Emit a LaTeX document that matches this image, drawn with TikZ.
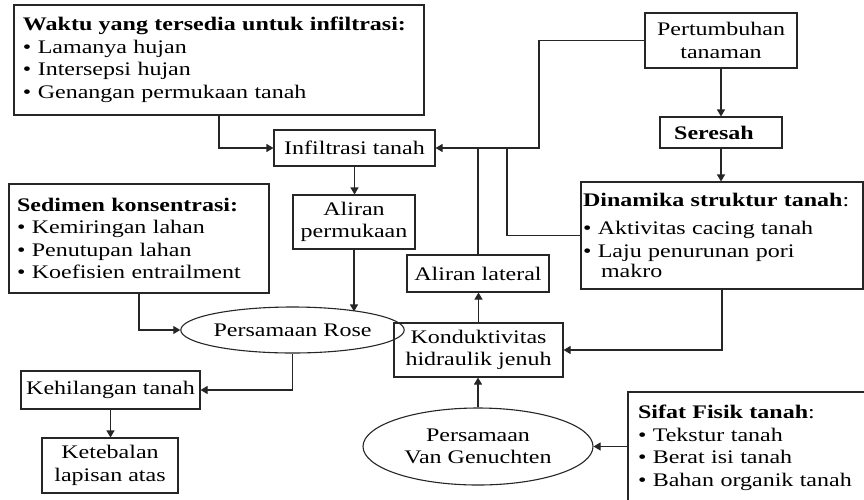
\documentclass[tikz,border=0pt]{standalone}
\usepackage{fontspec}
\setmainfont{Liberation Serif}[FakeStretch=1.25]
\usetikzlibrary{arrows.meta,shapes.geometric}
\newcommand{\bl}{\textbullet\ }
\tikzset{
  txt/.style={font=\fontsize{19.2}{22.5}\selectfont},
  box/.style={txt, draw=black!85, line width=1.1pt, rectangle, inner sep=0pt, align=center},
  lbox/.style={box, align=left},
  ell/.style={txt, draw=black!85, line width=1.1pt, ellipse, inner sep=0pt, align=center},
  conn/.style={line width=1.1pt, draw=black!85},
  arr/.style={conn, -{Triangle[length=7pt,width=8pt]}},
}
\begin{document}
\begin{tikzpicture}[x=1pt,y=-1pt]
\fill[white] (0,0) rectangle (864,499);
\useasboundingbox (0,0) rectangle (864,499);

\node[lbox, minimum width=410pt, minimum height=110pt, text width=392pt] (waktu) at (219,60)
  {\textbf{Waktu yang tersedia untuk infiltrasi:}\\ \bl Lamanya hujan\\ \bl Intersepsi hujan\\ \bl Genangan permukaan tanah};
\node[box, minimum width=161pt, minimum height=36pt] (infil) at (354.5,148) {Infiltrasi tanah};
\node[box, minimum width=152pt, minimum height=55pt] (pert) at (721,40.5) {Pertumbuhan\\tanaman};
\node[box, minimum width=122pt, minimum height=31pt] (seresah) at (721,132.5) {\hbox{\textbf{Seresah}\kern14pt}};
\node[lbox, minimum width=282pt, minimum height=107pt, text width=278pt] (dinam) at (722,235.5)
  {\textbf{Dinamika struktur tanah}:\\[6pt] \bl Aktivitas cacing tanah\\ \bl Laju penurunan pori\\[-2pt] \phantom{\bl}\,makro};
\node[lbox, minimum width=260pt, minimum height=109pt, text width=244pt] (sedimen) at (139,238.5)
  {\textbf{Sedimen konsentrasi:}\\ \bl Kemiringan lahan\\ \bl Penutupan lahan\\ \bl Koefisien entrailment};
\node[box, minimum width=122pt, minimum height=54pt] (alirp) at (354,222) {Aliran\\permukaan};
\node[box, minimum width=142pt, minimum height=37pt] (allat) at (478,273.5) {Aliran lateral};
\node[ell, minimum width=175pt, minimum height=46pt] (rose) at (292.5,330) {Persamaan Rose};
\node[box, minimum width=169pt, minimum height=54pt] (konduk) at (478.5,350) {Konduktivitas\\hidraulik jenuh};
\node[box, minimum width=179pt, minimum height=38pt] (kehil) at (110.5,390) {Kehilangan tanah};
\node[box, minimum width=136pt, minimum height=55pt] (keteb) at (110,465.5) {Ketebalan\\lapisan atas};
\node[ell, minimum width=230pt, minimum height=77pt] (vangen) at (478,446.5) {Persamaan\\Van Genuchten};
\node[lbox, minimum width=252pt, minimum height=112pt, text width=232pt] (sifat) at (754,448)
  {\textbf{Sifat Fisik tanah}:\\ \bl Tekstur tanah\\ \bl Berat isi tanah\\ \bl Bahan organik tanah};

\coordinate (j1) at (539,148);
\coordinate (j2) at (507,148);
\coordinate (j3) at (478,148);

\draw[arr] (waktu.south) |- (infil.west);
\draw[arr] (pert.west) -| (j1) -- (infil.east);
\draw[conn] (dinam.west) -| (j2);
\draw[conn] (allat.north) -- (j3);
\draw[arr] (pert.south) -- (seresah.north);
\draw[arr] (seresah.south) -- (seresah.south |- dinam.north);
\draw[arr] (infil.south) -- (infil.south |- alirp.north);
\draw[arr] (alirp.south) -- (alirp.south |- rose.15);
\draw[arr] (sedimen.south) |- (rose.west);
\draw[arr] (rose.south) |- (kehil.east);
\draw[arr] (kehil.south) -- (kehil.south |- keteb.north);
\draw[arr] (dinam.south) |- (konduk.east);
\draw[arr] (konduk.north) -- (konduk.north |- allat.south);
\draw[arr] (vangen.north) -- (vangen.north |- konduk.south);
\draw[arr] (sifat.west |- vangen.east) -- (vangen.east);
\end{tikzpicture}
\end{document}
